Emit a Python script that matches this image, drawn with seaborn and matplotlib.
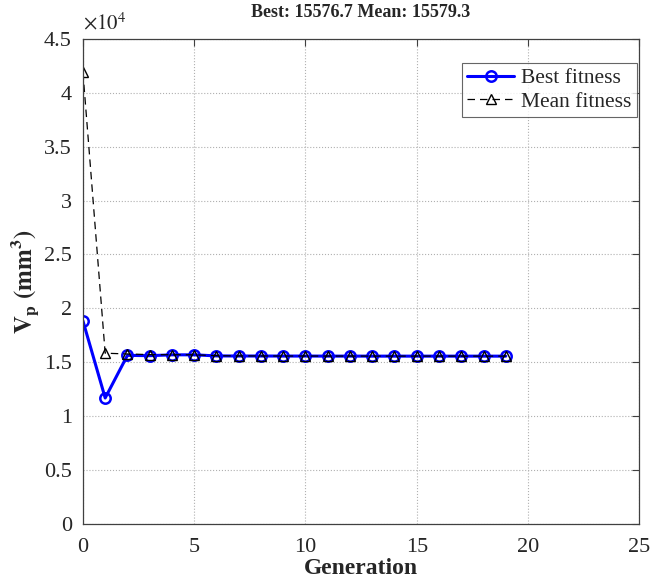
import numpy as np
import pandas as pd
import matplotlib
matplotlib.use("Agg")
import matplotlib.pyplot as plt
import seaborn as sns
from matplotlib.ticker import FuncFormatter, MultipleLocator

# datos (fitness por generación)
generacion = list(range(20))
best_fitness = [18850, 11700, 15650, 15620, 15700, 15700, 15600, 15590, 15590, 15585,
                15585, 15580, 15580, 15578, 15578, 15577, 15577, 15576.7, 15576.7, 15576.7]
mean_fitness = [41900, 15850, 15780, 15720, 15710, 15700, 15620, 15600, 15595, 15590,
                15588, 15585, 15583, 15582, 15581, 15580, 15580, 15579.5, 15579.3, 15579.3]

df = pd.DataFrame({"gen": generacion, "best": best_fitness, "mean": mean_fitness})

sns.set_style("white")
plt.rcParams["font.family"] = ["Liberation Serif", "DejaVu Serif"]
plt.rcParams["mathtext.fontset"] = "stix"

fig = plt.figure(figsize=(6.53, 5.87), dpi=100)
ax = fig.add_axes([0.127, 0.107, 0.852, 0.827])

# Best primero, Mean encima (como en MATLAB)
sns.lineplot(data=df, x="gen", y="best", ax=ax, color="blue", linewidth=2.2,
             marker="o", markersize=7.5, markerfacecolor="none",
             markeredgecolor="blue", markeredgewidth=1.8, label="Best fitness")
sns.lineplot(data=df, x="gen", y="mean", ax=ax, color="black", linewidth=0.9,
             linestyle=(0, (6, 4)), marker="^", markersize=7, markerfacecolor="none",
             markeredgecolor="black", markeredgewidth=1.0, label="Mean fitness")

ax.set_xlim(0, 25)
ax.set_ylim(0, 45000)
ax.xaxis.set_major_locator(MultipleLocator(5))
ax.yaxis.set_major_locator(MultipleLocator(5000))
ax.yaxis.set_major_formatter(FuncFormatter(lambda v, p: f"{v / 1e4:g}"))
ax.text(0.0, 1.008, r"$\times10^4$", transform=ax.transAxes, fontsize=15,
        ha="left", va="bottom")

ax.grid(True, color="#b0b0b0", linestyle=":", linewidth=0.8)
ax.tick_params(direction="in", top=True, right=True, labelsize=16, length=5,
               width=0.8, color="#404040")
ax.tick_params(axis="x", pad=10)
ax.tick_params(axis="y", pad=8)
for s in ax.spines.values():
    s.set_color("#404040")
    s.set_linewidth(0.9)

ax.set_title(f"Best: {best_fitness[-1]} Mean: {mean_fitness[-1]}",
             fontsize=13, fontweight="bold", pad=16)
ax.set_xlabel("Generation", fontsize=17, fontweight="bold", labelpad=1)
ax.set_ylabel(r"$\mathbf{V_p\ (mm^3)}$", fontsize=18, labelpad=2)

leg = ax.legend(loc="upper right", fontsize=15.5, frameon=True,
                fancybox=False, edgecolor="#404040", borderpad=0.25,
                handlelength=2.2, handletextpad=0.3, labelspacing=0.15,
                borderaxespad=0, bbox_to_anchor=(0.995, 0.95))
leg.get_frame().set_linewidth(0.8)

fig.savefig("out.png", dpi=100)
